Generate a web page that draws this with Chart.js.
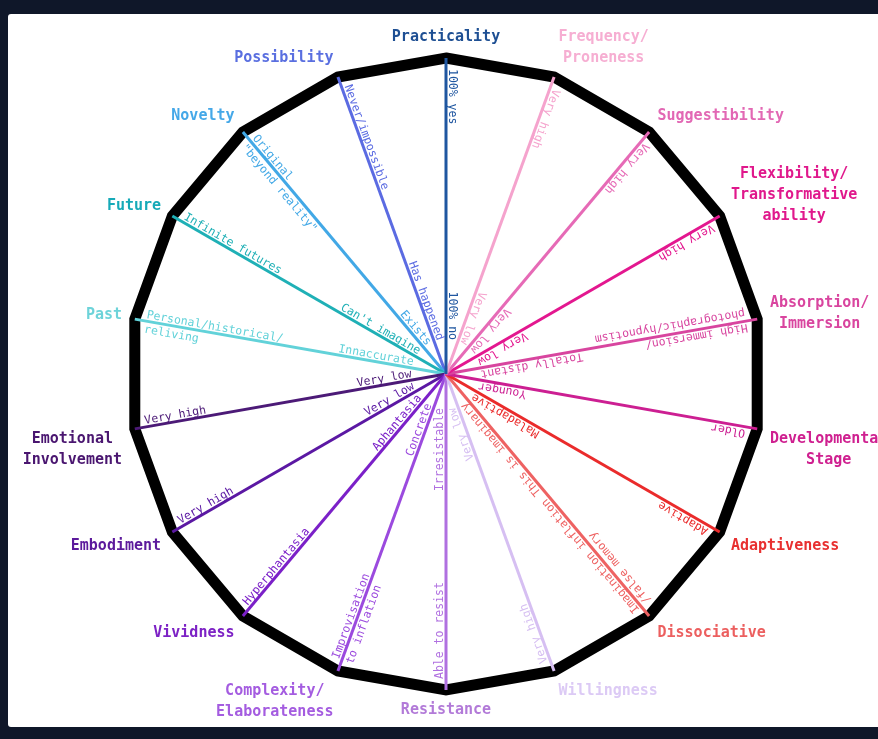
<!DOCTYPE html>
<html>
<head>
<meta charset="utf-8">
<script src="https://cdn.jsdelivr.net/npm/chart.js"></script>
<style>
  html, body { margin: 0; padding: 0; background: #0f1729; }
  .card { position: absolute; left: 8px; top: 14px; width: 880px; height: 713px; background: #fff; border-radius: 3px; }
  #wheel { position: absolute; left: 0; top: 0; }
</style>
</head>
<body>
<div class="card"></div>
<canvas id="wheel" width="878" height="739"></canvas>
<script>
// dimensions, clockwise from the top
const dimensions = [
  'Practicality', ['Frequency/', 'Proneness'], 'Suggestibility',
  ['Flexibility/', 'Transformative', 'ability'], ['Absorption/', 'Immersion'],
  ['Developmental', 'Stage'], 'Adaptiveness', 'Dissociative', 'Willingness',
  'Resistance', ['Complexity/', 'Elaborateness'], 'Vividness', 'Embodiment',
  ['Emotional', 'Involvement'], 'Past', 'Future', 'Novelty', 'Possibility'
];

// every spoke runs the full scale
const reach = [100, 100, 100, 100, 100, 100, 100, 100, 100, 100, 100, 100, 100, 100, 100, 100, 100, 100];

// text at the rim end of each spoke
const highEnd = [
  ['100% yes'], ['Very high'], ['Very high'], ['Very high'],
  ['High immersion/', 'photographic/hypnotism'], ['Older'], ['Adaptive'],
  ['Imagination inflation', '/false memory'], ['Very high'], ['Able to resist'],
  ['Improvisation', 'to inflation'], ['Hyperphantasia'], ['Very high'], ['Very high'],
  ['Personal/historical/', 'reliving'], ['Infinite futures'],
  ['Original', '"beyond reality"'], ['Never/impossible']
];

// text at the centre end of each spoke
const lowEnd = [
  '100% no', 'Very low', 'Very low', 'Very low', 'Totally distant', 'Younger',
  'Maladaptive', 'This is imaginary', 'Very low', 'Irresistable', 'Concrete',
  'Aphantasia', 'Very low', 'Very low', 'Innaccurate', "Can't imagine", 'Exists',
  'Has happened'
];

const spokeColors = [
  '#1f56a0', '#f5a3cd', '#e66ab6', '#e3178f', '#d8459f', '#cc1f92',
  '#ea2b2b', '#ee6262', '#d6bff2', '#b070e0', '#9b4ade', '#7b20c8',
  '#5b18a3', '#4c1a77', '#62d2d9', '#1fb0b6', '#42a8e6', '#5b6be2'
];

const labelColors = [
  '#1e4f93', '#f6aed2', '#e268b4', '#e0188c', '#d9459f', '#cf2090',
  '#e83030', '#ec5f5f', '#dccaf5', '#b27ad8', '#a45ce0', '#7d22c5',
  '#5c1a9c', '#4a1670', '#6dd3d9', '#16aab8', '#45a8e8', '#5a6fe0'
];

const spokeText = {
  id: 'spokeText',
  afterDraw(chart) {
    const scale = chart.scales.r;
    const ctx = chart.ctx;
    const r = scale.drawingArea;

    // notes along each spoke, read from rim towards centre
    ctx.save();
    ctx.font = '11.5px "DejaVu Sans Mono"';
    dimensions.forEach((d, i) => {
      const rot = scale.getIndexAngle(i) + Math.PI / 2;
      ctx.fillStyle = spokeColors[i];

      const outer = scale.getPointPosition(i, r - 11);
      ctx.save();
      ctx.translate(outer.x, outer.y);
      ctx.rotate(rot);
      ctx.textAlign = 'left';
      const lines = highEnd[i];
      ctx.textBaseline = 'alphabetic';
      ctx.fillText(lines[0], 0, -3);
      if (lines.length > 1) {
        ctx.textBaseline = 'top';
        ctx.fillText(lines[1], 0, 3);
      }
      ctx.restore();

      const inner = scale.getPointPosition(i, 34);
      ctx.save();
      ctx.translate(inner.x, inner.y);
      ctx.rotate(rot);
      ctx.textAlign = 'right';
      ctx.textBaseline = 'alphabetic';
      ctx.fillText(lowEnd[i], 0, -3);
      ctx.restore();
    });
    ctx.restore();

    // dimension names outside the rim
    ctx.save();
    ctx.font = 'bold 15px "DejaVu Sans Mono"';
    ctx.textAlign = 'center';
    ctx.textBaseline = 'middle';
    const lineH = 21;
    dimensions.forEach((d, i) => {
      const lines = Array.isArray(d) ? d : [d];
      const w = Math.max(...lines.map(l => ctx.measureText(l).width));
      const h = (lines.length - 1) * lineH + 15;
      const a = scale.getIndexAngle(i);
      const deg = Math.round(a * 180 / Math.PI) % 360;
      const p = scale.getPointPosition(i, r + 13);
      let cx = p.x;
      if (deg > 0 && deg < 180) cx = p.x + w / 2;
      else if (deg > 180) cx = p.x - w / 2;
      const lift = Math.cos(a) >= 0 ? Math.cos(a) : -1;
      const cy = p.y - (h / 2) * lift;
      ctx.fillStyle = labelColors[i];
      lines.forEach((l, k) => {
        ctx.fillText(l, cx, cy - (lines.length - 1) * lineH / 2 + k * lineH);
      });
    });
    ctx.restore();
  }
};

new Chart(document.getElementById('wheel'), {
  type: 'radar',
  data: {
    labels: dimensions,
    datasets: [{
      data: reach,
      borderWidth: 0,
      borderColor: 'rgba(0,0,0,0)',
      backgroundColor: 'rgba(0,0,0,0)',
      pointRadius: 0,
      fill: false
    }]
  },
  options: {
    responsive: false,
    animation: false,
    layout: { padding: { left: 130, right: 116, top: 58, bottom: 49 } },
    plugins: { legend: { display: false }, tooltip: { enabled: false } },
    scales: {
      r: {
        min: 0,
        max: 100,
        ticks: { display: false, stepSize: 100 },
        grid: { color: '#000', lineWidth: 11, circular: false },
        angleLines: { color: (c) => spokeColors[c.index], lineWidth: 3 },
        pointLabels: { display: false }
      }
    }
  },
  plugins: [spokeText]
});
</script>
</body>
</html>
